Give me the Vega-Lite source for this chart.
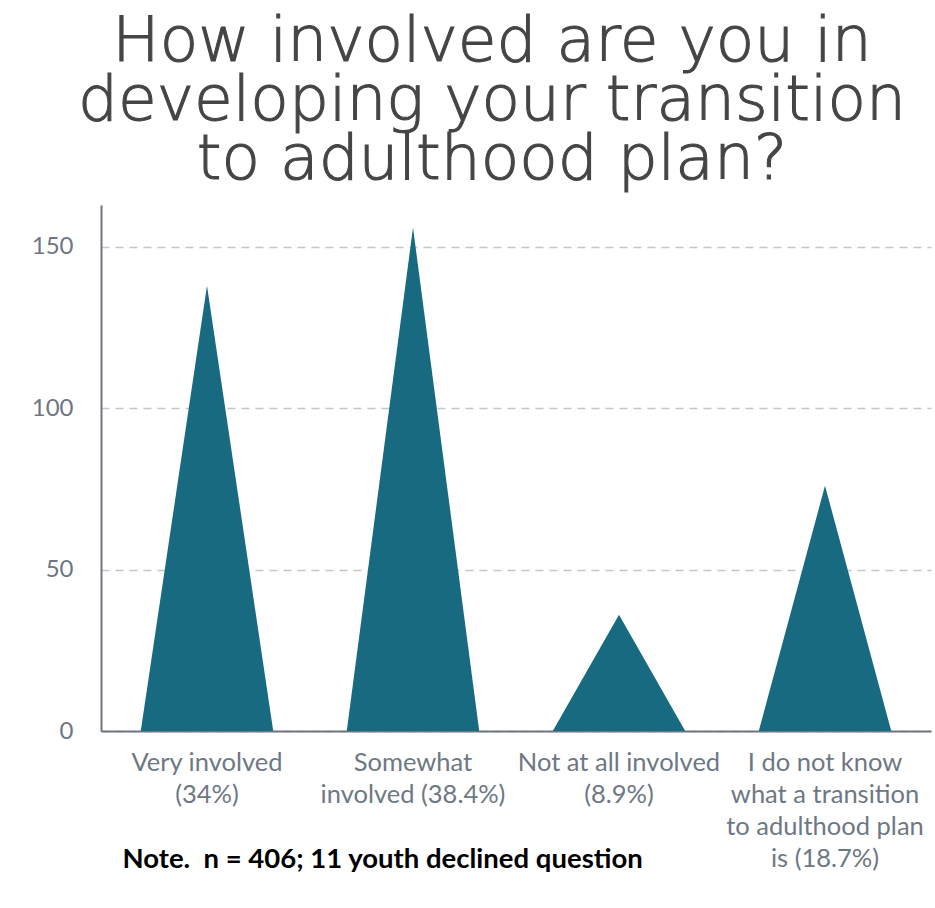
{
  "$schema": "https://vega.github.io/schema/vega-lite/v6.json",
  "autosize": {"type": "none"},
  "padding": {"left": 101, "top": 205, "right": 4, "bottom": 177},
  "width": 830,
  "height": 526,
  "background": "white",
  "title": {
    "text": ["How involved are you in", "developing your transition", "to adulthood plan?"],
    "font": "DejaVu Sans",
    "fontWeight": 200,
    "fontSize": 63,
    "lineHeight": 59,
    "color": "#454545",
    "anchor": "middle",
    "dx": -24,
    "offset": 13
  },
  "data": {
    "values": [
      {"category": "Very involved (34%)", "vertex": "left", "count": 0},
      {"category": "Very involved (34%)", "vertex": "tip", "count": 138},
      {"category": "Very involved (34%)", "vertex": "right", "count": 0},
      {"category": "Somewhat involved (38.4%)", "vertex": "left", "count": 0},
      {"category": "Somewhat involved (38.4%)", "vertex": "tip", "count": 156},
      {"category": "Somewhat involved (38.4%)", "vertex": "right", "count": 0},
      {"category": "Not at all involved (8.9%)", "vertex": "left", "count": 0},
      {"category": "Not at all involved (8.9%)", "vertex": "tip", "count": 36},
      {"category": "Not at all involved (8.9%)", "vertex": "right", "count": 0},
      {"category": "I do not know what a transition to adulthood plan is (18.7%)", "vertex": "left", "count": 0},
      {"category": "I do not know what a transition to adulthood plan is (18.7%)", "vertex": "tip", "count": 76},
      {"category": "I do not know what a transition to adulthood plan is (18.7%)", "vertex": "right", "count": 0}
    ]
  },
  "mark": {"type": "area", "color": "#176a80", "opacity": 1, "line": false},
  "encoding": {
    "x": {
      "field": "category",
      "type": "nominal",
      "sort": null,
      "scale": {"paddingInner": 0.357, "paddingOuter": 0.193},
      "axis": {
        "title": "Note.\u00a0\u00a0n = 406; 11 youth declined question",
        "titleFont": "Lato",
        "titleFontWeight": "bold",
        "titleFontSize": 27.5,
        "titleColor": "#000000",
        "titleAnchor": "start",
        "titleAlign": "left",
        "titleBaseline": "alphabetic",
        "titleX": 21,
        "titleY": 136,
        "labelAngle": 0,
        "labelFont": "Lato",
        "labelFontSize": 25.5,
        "labelColor": "#6e7884",
        "labelLineHeight": 32,
        "labelPadding": 19,
        "labelBaseline": "top",
        "labelLimit": 300,
        "ticks": false,
        "domainColor": "#6f7580",
        "domainWidth": 2,
        "labelExpr": "datum.value == 'Very involved (34%)' ? ['Very involved', '(34%)'] : datum.value == 'Somewhat involved (38.4%)' ? ['Somewhat', 'involved (38.4%)'] : datum.value == 'Not at all involved (8.9%)' ? ['Not at all involved', '(8.9%)'] : ['I do not know', 'what a transition', 'to adulthood plan', 'is (18.7%)']"
      }
    },
    "xOffset": {
      "field": "vertex",
      "type": "nominal",
      "sort": ["left", "tip", "right"],
      "scale": {"type": "point", "domain": ["left", "tip", "right"], "padding": 0}
    },
    "y": {
      "field": "count",
      "type": "quantitative",
      "stack": null,
      "scale": {"domain": [0, 163], "nice": false},
      "axis": {
        "title": null,
        "values": [0, 50, 100, 150],
        "labelFont": "Lato",
        "labelFontSize": 24,
        "labelColor": "#6f7682",
        "labelPadding": 28,
        "ticks": false,
        "domainColor": "#6f7580",
        "domainWidth": 2,
        "grid": true,
        "gridColor": "#c4c6c8",
        "gridDash": [8, 6],
        "gridWidth": 1.5
      }
    },
    "detail": {"field": "category", "type": "nominal"}
  },
  "config": {
    "view": {"stroke": null},
    "style": {"group-title": {"stroke": "#454545", "strokeWidth": 1.1}}
  }
}
